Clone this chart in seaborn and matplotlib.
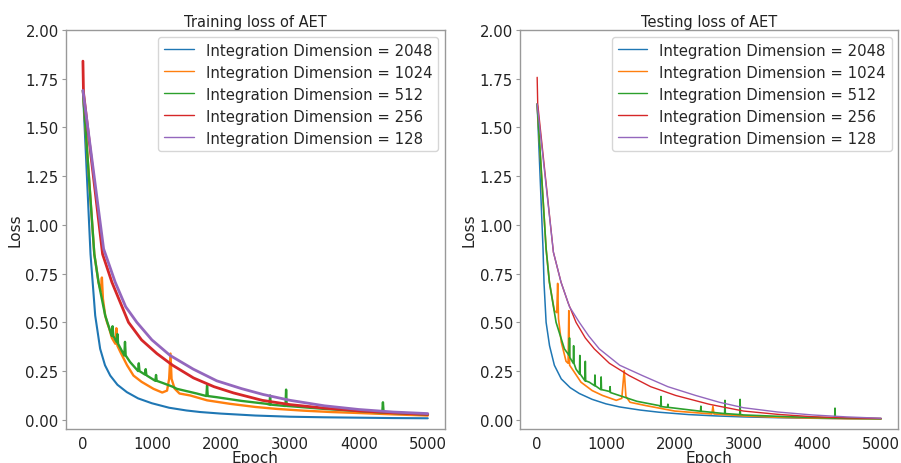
import matplotlib
matplotlib.use("Agg")
import matplotlib.pyplot as plt
import seaborn as sns
import pandas as pd

# ---------------- data ----------------
labels = ["Integration Dimension = 2048", "Integration Dimension = 1024",
          "Integration Dimension = 512", "Integration Dimension = 256",
          "Integration Dimension = 128"]
colors = ["#1f77b4", "#ff7f0e", "#2ca02c", "#d62728", "#9467bd"]
x_ticks = [0, 1000, 2000, 3000, 4000, 5000]
y_ticks = [0.00, 0.25, 0.50, 0.75, 1.00, 1.25, 1.50, 1.75, 2.00]

# Training loss
tr_2048_ep = [0, 110, 178, 250, 320, 396, 500, 637, 800, 1000, 1250, 1500, 1700, 2000, 2500, 3000, 3500, 4000, 4500, 5000]
tr_2048_ls = [1.69, 0.85, 0.535, 0.364, 0.28, 0.227, 0.18, 0.142, 0.11, 0.085, 0.062, 0.048, 0.040, 0.032, 0.022, 0.016, 0.013, 0.011, 0.009, 0.008]

tr_1024_ep = [0, 165, 226, 260, 275, 290, 323, 350, 380, 420, 470, 485, 500, 540, 640, 733, 850, 1023, 1150, 1220, 1250, 1270, 1285, 1330, 1400, 1555, 1800, 2134, 2500, 2811, 3200, 3600, 4000, 4500, 5000]
tr_1024_ls = [1.69, 0.85, 0.706, 0.66, 0.73, 0.62, 0.535, 0.50, 0.47, 0.42, 0.39, 0.47, 0.38, 0.35, 0.28, 0.227, 0.195, 0.159, 0.14, 0.15, 0.21, 0.34, 0.21, 0.16, 0.135, 0.125, 0.10, 0.082, 0.066, 0.056, 0.047, 0.040, 0.035, 0.028, 0.022]

tr_512_ep = [0, 165, 226, 323, 400, 420, 430, 440, 492, 500, 510, 600, 610, 620, 685, 800, 810, 820, 900, 910, 920, 927, 1050, 1060, 1070, 1150, 1300, 1362, 1650, 1790, 1800, 1810, 1941, 2300, 2666, 2705, 2714, 2723, 2937, 2946, 2955, 3000, 3500, 4000, 4340, 4350, 4360, 4500, 5000]
tr_512_ls = [1.69, 0.85, 0.706, 0.535, 0.45, 0.43, 0.48, 0.43, 0.398, 0.44, 0.39, 0.33, 0.40, 0.33, 0.296, 0.25, 0.29, 0.25, 0.232, 0.26, 0.23, 0.227, 0.20, 0.23, 0.20, 0.19, 0.17, 0.159, 0.135, 0.122, 0.176, 0.122, 0.116, 0.097, 0.082, 0.078, 0.125, 0.078, 0.071, 0.155, 0.071, 0.07, 0.056, 0.045, 0.037, 0.09, 0.037, 0.035, 0.027]

tr_256_ep = [0, 8, 285, 420, 661, 850, 1072, 1300, 1603, 1900, 2183, 2600, 3004, 3500, 4000, 4500, 5000]
tr_256_ls = [1.84, 1.68, 0.85, 0.706, 0.50, 0.41, 0.34, 0.28, 0.215, 0.17, 0.138, 0.10, 0.078, 0.06, 0.046, 0.036, 0.028]

tr_128_ep = [0, 300, 468, 620, 782, 1000, 1265, 1600, 1941, 2300, 2613, 3004, 3500, 4000, 4500, 5000]
tr_128_ls = [1.69, 0.877, 0.706, 0.58, 0.50, 0.41, 0.33, 0.26, 0.20, 0.16, 0.13, 0.10, 0.072, 0.053, 0.04, 0.032]

# Testing loss
te_2048_ep = [0, 85, 100, 130, 180, 250, 350, 480, 613, 800, 1000, 1200, 1500, 1772, 2200, 2600, 3000, 3500, 4000, 4500, 5000]
te_2048_ls = [1.62, 0.88, 0.70, 0.50, 0.38, 0.28, 0.21, 0.165, 0.135, 0.105, 0.082, 0.066, 0.05, 0.039, 0.027, 0.02, 0.015, 0.011, 0.008, 0.006, 0.005]

te_1024_ep = [0, 130, 178, 250, 285, 298, 310, 350, 420, 450, 460, 472, 530, 637, 800, 950, 1150, 1230, 1265, 1290, 1350, 1580, 2000, 2540, 2555, 2570, 3000, 3500, 4000, 4500, 5000]
te_1024_ls = [1.62, 0.877, 0.706, 0.56, 0.55, 0.70, 0.52, 0.40, 0.30, 0.29, 0.56, 0.28, 0.25, 0.193, 0.15, 0.125, 0.10, 0.11, 0.253, 0.12, 0.09, 0.073, 0.045, 0.03, 0.07, 0.03, 0.02, 0.013, 0.009, 0.006, 0.005]

te_512_ep = [0, 130, 178, 275, 396, 465, 470, 475, 525, 530, 535, 565, 615, 620, 625, 695, 700, 705, 758, 835, 840, 845, 925, 930, 935, 1000, 1055, 1060, 1065, 1193, 1450, 1772, 1795, 1800, 1805, 1895, 1900, 1905, 2000, 2375, 2380, 2385, 2725, 2730, 2735, 2945, 2950, 2955, 3000, 3500, 4000, 4325, 4330, 4335, 4500, 5000]
te_512_ls = [1.62, 0.877, 0.706, 0.50, 0.364, 0.33, 0.42, 0.32, 0.29, 0.38, 0.29, 0.26, 0.235, 0.33, 0.235, 0.20, 0.30, 0.20, 0.193, 0.175, 0.23, 0.175, 0.155, 0.22, 0.155, 0.15, 0.145, 0.17, 0.14, 0.125, 0.095, 0.073, 0.068, 0.12, 0.068, 0.064, 0.08, 0.064, 0.06, 0.044, 0.07, 0.044, 0.032, 0.10, 0.032, 0.027, 0.105, 0.027, 0.025, 0.018, 0.012, 0.009, 0.06, 0.009, 0.008, 0.006]

te_256_ep = [0, 8, 236, 347, 450, 565, 700, 830, 1050, 1337, 1650, 2014, 2500, 3000, 3500, 4000, 4500, 5000]
te_256_ls = [1.757, 1.62, 0.86, 0.706, 0.60, 0.50, 0.42, 0.364, 0.29, 0.227, 0.17, 0.125, 0.08, 0.045, 0.028, 0.016, 0.01, 0.007]

te_128_ep = [0, 236, 347, 470, 613, 750, 903, 1200, 1530, 1900, 2304, 2650, 3000, 3500, 4000, 4500, 5000]
te_128_ls = [1.62, 0.86, 0.706, 0.58, 0.50, 0.43, 0.364, 0.28, 0.227, 0.17, 0.125, 0.09, 0.062, 0.04, 0.025, 0.015, 0.008]

train_series = [(tr_2048_ep, tr_2048_ls), (tr_1024_ep, tr_1024_ls), (tr_512_ep, tr_512_ls),
                (tr_256_ep, tr_256_ls), (tr_128_ep, tr_128_ls)]
test_series = [(te_2048_ep, te_2048_ls), (te_1024_ep, te_1024_ls), (te_512_ep, te_512_ls),
               (te_256_ep, te_256_ls), (te_128_ep, te_128_ls)]

# ---------------- drawing ----------------
sns.set_style("white")
plt.rcParams["font.family"] = ["DejaVu Sans"]

fig = plt.figure(figsize=(9.01, 4.64), dpi=100)
ax1 = fig.add_axes([0.0729, 0.0733, 0.4210, 0.8600])
ax2 = fig.add_axes([0.5771, 0.0733, 0.4199, 0.8600])

train_lw = [1.5, 1.7, 1.7, 2.0, 2.0]
test_lw = [1.1, 1.2, 1.2, 1.0, 1.0]

for ax, series, lws, title in [(ax1, train_series, train_lw, "Training loss of AET"),
                               (ax2, test_series, test_lw, "Testing loss of AET")]:
    for (ep, ls), lab, col, lw in zip(series, labels, colors, lws):
        df = pd.DataFrame({"Epoch": ep, "Loss": ls})
        sns.lineplot(data=df, x="Epoch", y="Loss", ax=ax, color=col, linewidth=lw,
                     label=lab, estimator=None, sort=False)
    ax.set_xlim(-250, 5250)
    ax.set_ylim(-0.047, 2.0)
    ax.set_xticks(x_ticks)
    ax.set_yticks(y_ticks)
    ax.set_yticklabels([f"{v:.2f}" for v in y_ticks])
    ax.tick_params(axis="both", labelsize=10.7, colors="#222222", length=3, width=0.8,
                   left=True, bottom=False, pad=2)
    ax.tick_params(axis="y", color="#999999")
    ax.set_xlabel("Epoch", fontsize=11, labelpad=-1, color="#222222")
    ax.set_ylabel("Loss", fontsize=11, labelpad=2, color="#222222")
    ax.set_title(title, fontsize=10.5, pad=3, color="#222222")
    for s in ax.spines.values():
        s.set_color("#999999")
        s.set_linewidth(1.0)
    leg = ax.legend(loc="upper right", fontsize=10.7, frameon=True, borderaxespad=0.45,
                    labelspacing=0.47, handlelength=2.0, handletextpad=0.8)
    for h in leg.get_lines():
        h.set_linewidth(1.0)

fig.savefig("out.png", dpi=100)
